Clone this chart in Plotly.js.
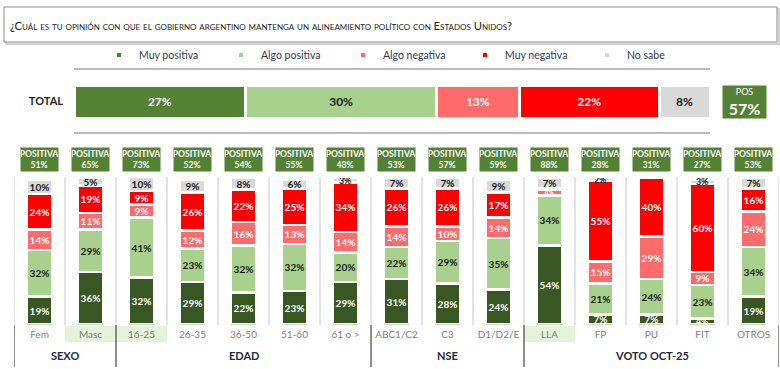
<!DOCTYPE html>
<html>
<head>
<meta charset="utf-8">
<script src="https://cdn.plot.ly/plotly-3.0.1.min.js"></script>
<style>html,body{margin:0;padding:0;background:#fff;}#chart{width:780px;height:369px;}</style>
</head>
<body>
<div id="chart"></div>
<script>
// ---- DATA ----
const titleText = '¿Cuál es tu opinión con que el gobierno argentino mantenga un alineamiento político con Estados Unidos?';
const seriesNames = ['Muy positiva', 'Algo positiva', 'Algo negativa', 'Muy negativa', 'No sabe'];
const totalLabel = 'TOTAL';
const totalValues = [27, 30, 13, 22, 8];
const totalPos = 57;
const categories = ['Fem', 'Masc', '16-25', '26-35', '36-50', '51-60', '61 o >', 'ABC1/C2', 'C3', 'D1/D2/E', 'LLA', 'FP', 'PU', 'FIT', 'OTROS'];
const muyPositiva  = [19, 36, 32, 29, 22, 23, 29, 31, 28, 24, 54, 7, 7, 4, 19];
const algoPositiva = [32, 29, 41, 23, 32, 32, 20, 22, 29, 35, 34, 21, 24, 23, 34];
const algoNegativa = [14, 11, 9, 12, 16, 13, 14, 14, 10, 14, 4, 15, 29, 9, 24];
const muyNegativa  = [24, 19, 9, 26, 22, 25, 34, 26, 26, 17, 1, 55, 40, 60, 16];
const noSabe       = [10, 5, 10, 9, 8, 6, 3, 7, 7, 9, 7, 2, 0, 3, 7];
const positiva     = [51, 65, 73, 52, 54, 55, 48, 53, 57, 59, 88, 28, 31, 27, 53];
const groupLabels = ['SEXO', 'EDAD', 'NSE', 'VOTO OCT-25'];
const groupSizes  = [2, 5, 3, 5];
const highlighted = ['Masc', '16-25', 'LLA'];

// ---- STYLE ----
const W = 780, H = 369;
const FONT = 'Lato, "Noto Sans", sans-serif';
const colorsTotal = ['#548235', '#a9d18e', '#ff6b6b', '#ff0000', '#d9d9d9'];
const colorsCols  = ['#385723', '#a9d18e', '#ff6b6b', '#ff0000', '#d9d9d9'];
const textColors  = ['#ffffff', '#1a1a1a', '#ffffff', '#ffffff', '#1a1a1a'];
const px = v => v / W;
const py = v => 1 - v / H;

const colSeries = [muyPositiva, algoPositiva, algoNegativa, muyNegativa, noSabe];
const traces = [];

// TOTAL horizontal stacked bar
seriesNames.forEach((name, s) => {
  traces.push({
    type: 'bar', orientation: 'h', xaxis: 'x', yaxis: 'y',
    y: [totalLabel], x: [totalValues[s]], width: 1,
    name: name, showlegend: false,
    marker: {color: colorsTotal[s], line: {color: '#ffffff', width: 3}},
    text: [totalValues[s] + '%'], textposition: 'inside', insidetextanchor: 'middle',
    textangle: 0, constraintext: 'none',
    textfont: {family: FONT, size: 12, color: textColors[s], weight: 700},
    hoverinfo: 'skip'
  });
});

// label size: small slivers get smaller text (top series may overflow upward)
const labelSize = (v, s) => v > 4 ? 10 : (s === 4 || s === 0 ? 9 : 6.5);

// Column stacked bars (labels of 1% slivers are not printed in the reference)
seriesNames.forEach((name, s) => {
  traces.push({
    type: 'bar', xaxis: 'x2', yaxis: 'y2',
    x: categories, y: colSeries[s], width: 0.49,
    name: name, showlegend: false,
    marker: {color: colorsCols[s], line: {color: '#ffffff', width: 2.5}},
    text: colSeries[s].map(v => v === 1 ? '' : v + '%'),
    textposition: 'inside', insidetextanchor: 'middle',
    textangle: 0, constraintext: 'none',
    textfont: {family: FONT, size: colSeries[s].map(v => labelSize(v, s)), color: textColors[s], weight: 700},
    hoverinfo: 'skip'
  });
});

// Legend entries
seriesNames.forEach((name, s) => {
  traces.push({
    type: 'scatter', mode: 'markers', xaxis: 'x2', yaxis: 'y2',
    x: [null], y: [null], name: name, showlegend: true,
    marker: {symbol: 'square', size: 4, color: colorsTotal[s]}
  });
});

// Shapes
const shapes = [];
shapes.push({type: 'rect', xref: 'paper', yref: 'paper', x0: px(6), x1: px(779), y0: py(44), y1: py(9),
  line: {color: '#d0d0d0', width: 2}, fillcolor: 'rgba(0,0,0,0)', layer: 'below'});
shapes.push({type: 'rect', xref: 'paper', yref: 'paper', x0: px(4), x1: px(777), y0: py(42), y1: py(7),
  line: {color: '#8a8a8a', width: 1}, fillcolor: '#ffffff', layer: 'below'});
[69, 133].forEach(yy => shapes.push({type: 'line', xref: 'paper', yref: 'paper',
  x0: px(74), x1: px(710), y0: py(yy), y1: py(yy), line: {color: '#a6a6a6', width: 1.5}}));
highlighted.forEach(c => {
  const i = categories.indexOf(c);
  shapes.push({type: 'rect', xref: 'x2', yref: 'paper', x0: i - 0.5, x1: i + 0.5, y0: py(342), y1: py(326),
    line: {width: 0}, fillcolor: '#e4f3da', layer: 'below'});
});
for (let k = 0; k <= categories.length; k++) {
  shapes.push({type: 'line', xref: 'x2', yref: 'paper', x0: k - 0.5, x1: k - 0.5, y0: py(325), y1: py(177),
    line: {color: '#c8c8c8', width: 1}, layer: 'below'});
}
let acc = 0;
const groupBounds = [0];
groupSizes.forEach(g => { acc += g; groupBounds.push(acc); });
groupBounds.forEach(b => shapes.push({type: 'line', xref: 'x2', yref: 'paper', x0: b - 0.5, x1: b - 0.5,
  y0: py(367), y1: py(325), line: {color: '#444444', width: 1.2}}));

// Annotations
const annotations = [];
annotations.push({xref: 'paper', yref: 'paper', x: px(8), y: py(25), xanchor: 'left', yanchor: 'middle',
  text: titleText, showarrow: false,
  font: {family: FONT, size: 11.2, color: '#262626', variant: 'small-caps'}});
annotations.push({xref: 'paper', yref: 'paper', x: px(744.5), y: py(102), xanchor: 'center', yanchor: 'middle',
  text: '<span style="font-size:9px">POS</span><br><b>' + totalPos + '%</b>', showarrow: false,
  bgcolor: '#548235', width: 43, height: 32, borderpad: 0,
  font: {family: FONT, size: 16, color: '#ffffff'}});
categories.forEach((c, i) => {
  annotations.push({xref: 'x2', yref: 'paper', x: i, y: py(159.5), xanchor: 'center', yanchor: 'middle',
    text: '<b>POSITIVA</b><br><b>' + positiva[i] + '%</b>', showarrow: false,
    bgcolor: '#548235', width: 37, height: 23, borderpad: 0,
    font: {family: FONT, size: 8.6, color: '#ffffff'}});
});
let start = 0;
groupLabels.forEach((g, gi) => {
  const center = start + (groupSizes[gi] - 1) / 2;
  annotations.push({xref: 'x2', yref: 'paper', x: center, y: py(355), xanchor: 'center', yanchor: 'middle',
    text: '<b>' + g + '</b>', showarrow: false,
    font: {family: FONT, size: 11, color: '#1f2a3c'}});
  start += groupSizes[gi];
});

const layout = {
  width: W, height: H,
  margin: {l: 0, r: 0, t: 0, b: 0},
  paper_bgcolor: '#ffffff', plot_bgcolor: 'rgba(0,0,0,0)',
  font: {family: FONT, color: '#333333'},
  barmode: 'stack',
  hovermode: false,
  showlegend: true,
  legend: {orientation: 'h', x: px(99), y: py(55), xanchor: 'left', yanchor: 'middle',
    entrywidth: 77, entrywidthmode: 'pixels', itemwidth: 30,
    font: {family: FONT, size: 10.5, color: '#2e3a59'}, bgcolor: 'rgba(0,0,0,0)',
    traceorder: 'normal'},
  xaxis: {domain: [px(74), px(710)], range: [0, 100], visible: false, fixedrange: true},
  yaxis: {domain: [py(118), py(85)], type: 'category', range: [-0.5, 0.5],
    showgrid: false, zeroline: false, showline: false, ticks: '', ticklabelstandoff: 10,
    tickfont: {family: FONT, size: 11, color: '#262626', weight: 700}, fixedrange: true},
  xaxis2: {domain: [px(14), px(779)], type: 'category', range: [-0.5, categories.length - 0.5],
    anchor: 'y2', showgrid: false, zeroline: false, showline: false, ticks: '', ticklabelstandoff: 2,
    tickfont: {family: FONT, size: 10, color: '#7f7f7f'}, fixedrange: true},
  yaxis2: {domain: [py(324.5), py(178)], range: [0, 100], anchor: 'x2', visible: false, fixedrange: true},
  shapes: shapes,
  annotations: annotations
};

Plotly.newPlot('chart', traces, layout, {displayModeBar: false, staticPlot: true});
</script>
</body>
</html>
